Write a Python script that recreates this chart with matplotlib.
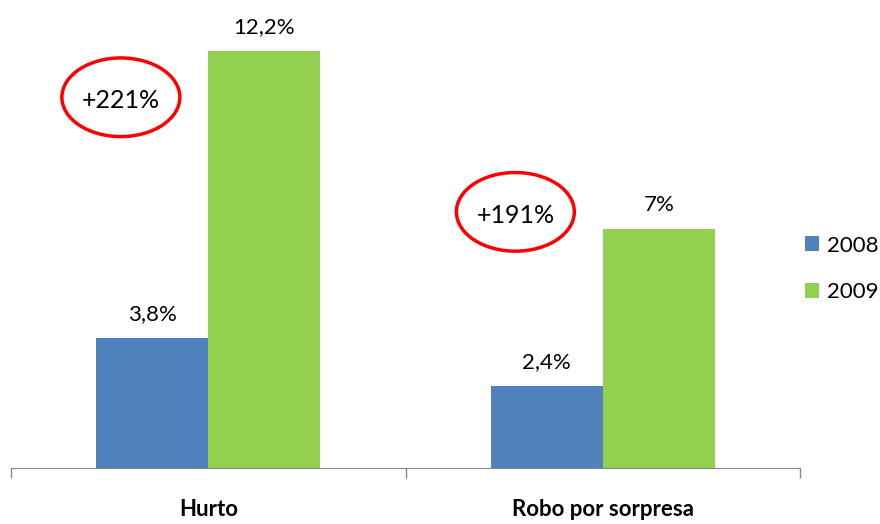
import numpy as np
import matplotlib.pyplot as plt
from matplotlib.patches import Ellipse

# data
categories = ["Hurto", "Robo por sorpresa"]
years = ["2008", "2009"]
values_2008 = [3.8, 2.4]
values_2009 = [12.2, 7.0]
labels_2008 = ["3,8%", "2,4%"]
labels_2009 = ["12,2%", "7%"]
growth = ["+221%", "+191%"]

colors = {"2008": "#4F81BD", "2009": "#92D050"}

plt.rcParams['font.family'] = ['Lato', 'DejaVu Sans']


def main():
    fig = plt.figure(figsize=(8.8, 5.24), dpi=100)
    ax = fig.add_axes([11 / 880, 1 - 468 / 524, 789 / 880, 444.6 / 524])

    x = np.arange(len(categories))
    width = 0.284

    bars_a = ax.bar(x - width / 2, values_2008, width, color=colors["2008"], label="2008")
    bars_b = ax.bar(x + width / 2, values_2009, width, color=colors["2009"], label="2009")

    for bars, labels in [(bars_a, labels_2008), (bars_b, labels_2009)]:
        for bar, lab in zip(bars, labels):
            ax.annotate(lab, (bar.get_x() + bar.get_width() / 2, bar.get_height()),
                        xytext=(0, 10), textcoords="offset points",
                        ha="center", va="bottom", fontsize=16)

    # red circled growth annotations, placed left of each group's 2009 bar
    for i, (g, v09) in enumerate(zip(growth, values_2009)):
        cx = x[i] - 0.2215
        cy = v09 - 1.36 if i == 0 else v09 + 0.49
        ax.add_patch(Ellipse((cx, cy), 0.299, 2.3, fill=False,
                             edgecolor="#FF0000", linewidth=2.5, clip_on=False))
        ax.text(cx, cy - 0.1, g, ha="center", va="center", fontsize=18)

    ax.set_xlim(-0.5, 1.5)
    ax.set_ylim(0, 13)
    ax.set_yticks([])
    for side in ["top", "right", "left"]:
        ax.spines[side].set_visible(False)
    ax.spines["bottom"].set_color("#878787")

    ax.set_xticks(x)
    ax.set_xticklabels(categories, fontsize=16, fontweight="bold")
    ax.tick_params(axis="x", which="major", length=0, pad=22)
    ax.set_xticks([-0.5, 0.5, 1.5], minor=True)
    ax.tick_params(axis="x", which="minor", length=7, color="#878787", width=1)

    fig.legend(handles=[bars_a, bars_b], labels=years, loc="center left",
               bbox_to_anchor=(805 / 880, 1 - 269 / 524), frameon=False,
               fontsize=16, handlelength=0.65, handleheight=0.65,
               handletextpad=0.35, labelspacing=1.2, borderpad=0,
               borderaxespad=0)

    fig.savefig("out.png", dpi=100)


if __name__ == "__main__":
    main()
